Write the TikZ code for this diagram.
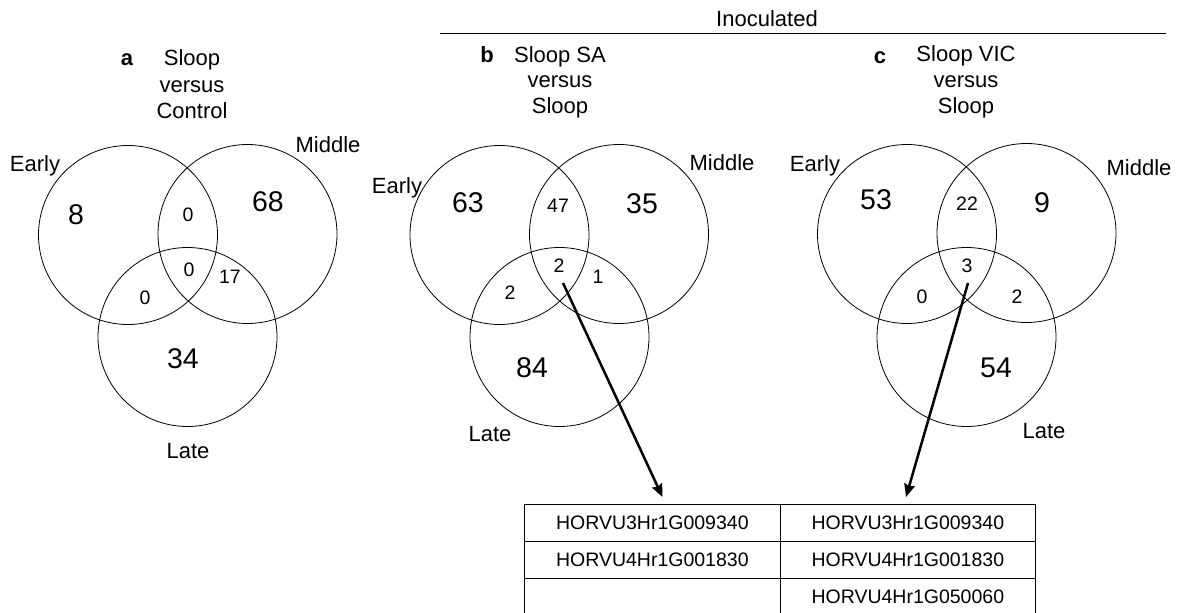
\documentclass[tikz,border=0pt]{standalone}
\usepackage{fontspec}
\setmainfont{Liberation Sans}
\usetikzlibrary{arrows.meta}

\tikzset{
  set/.style={circle, draw, line width=0.8pt, minimum size=179pt, inner sep=0pt},
  lbl/.style={anchor=base, inner sep=0pt, font=\fontsize{22}{26}\selectfont},
  big/.style={anchor=base, inner sep=0pt, font=\fontsize{28.5}{32}\selectfont},
  small/.style={anchor=base, inner sep=0pt, font=\fontsize{19.5}{23}\selectfont},
  cell/.style={draw, line width=1pt, minimum height=36.7pt,
               inner sep=0pt, font=\fontsize{19.5}{23}\selectfont},
  pointer/.style={line width=2.5pt, -{Stealth[length=13pt, width=11pt, inset=2pt]}},
}

\begin{document}
\begin{tikzpicture}[x=1pt, y=-1pt]
\clip (0,0) rectangle (1187,613);
\fill[white] (0,0) rectangle (1187,613);

% header spanning the two inoculated panels
\node[lbl] (inoc) at (767,27) {Inoculated};
\coordinate (ruleL) at (440,33);
\coordinate (ruleR) at (1166,33);
\draw[line width=0.8pt] (ruleL) -- (ruleR);

% ---------- panel a ----------
\node[lbl, font=\fontsize{22}{26}\selectfont\bfseries] (aTag) at (127,65) {a};
\node[lbl] (aT1) at (192,65) {Sloop};
\node[lbl] (aT2) at (192,92) {versus};
\node[lbl] (aT3) at (192,118) {Control};
\node[set] (aE) at (128,235) {};
\node[set] (aM) at (247.5,234) {};
\node[set] (aL) at (187.5,337) {};
\node[lbl] (aEl) at (35,171) {Early};
\node[lbl] (aMl) at (328,152) {Middle};
\node[lbl] (aLl) at (188,458) {Late};
\node[big] (aE1) at (76,224) {8};
\node[big] (aM1) at (268,211) {68};
\node[big] (aL1) at (183,368) {34};
\node[small] (aEM) at (188,221) {0};
\node[small] (aEML) at (189,276) {0};
\node[small] (aML) at (230,283) {17};
\node[small] (aEL) at (145,304) {0};

% ---------- panel b ----------
\node[lbl, font=\fontsize{22}{26}\selectfont\bfseries] (bTag) at (487,62) {b};
\node[lbl] (bT1) at (560,62) {Sloop SA};
\node[lbl] (bT2) at (560,87) {versus};
\node[lbl] (bT3) at (560,113) {Sloop};
\node[set] (bE) at (499.5,235) {};
\node[set] (bM) at (619,234) {};
\node[set] (bL) at (559.5,337) {};
\node[lbl] (bEl) at (397,193) {Early};
\node[lbl] (bMl) at (722,170) {Middle};
\node[lbl] (bLl) at (490,441) {Late};
\node[big] (bE1) at (468,212) {63};
\node[big] (bM1) at (642,213) {35};
\node[big] (bL1) at (532,377) {84};
\node[small] (bEM) at (558,212) {47};
\node[small] (bEML) at (559,272) {2};
\node[small] (bML) at (598,283) {1};
\node[small] (bEL) at (510,299) {2};

% ---------- panel c ----------
\node[lbl, font=\fontsize{22}{26}\selectfont\bfseries] (cTag) at (880,63) {c};
\node[lbl] (cT1) at (966,61) {Sloop VIC};
\node[lbl] (cT2) at (966,87) {versus};
\node[lbl] (cT3) at (966,113) {Sloop};
\node[set] (cE) at (907,234) {};
\node[set] (cM) at (1026.5,233) {};
\node[set] (cL) at (966.5,337) {};
\node[lbl] (cEl) at (815,171) {Early};
\node[lbl] (cMl) at (1139,175) {Middle};
\node[lbl] (cLl) at (1044,438) {Late};
\node[big] (cE1) at (876,209) {53};
\node[big] (cM1) at (1042,212) {9};
\node[big] (cL1) at (996,377) {54};
\node[small] (cEM) at (967,210) {22};
\node[small] (cEML) at (967,272) {3};
\node[small] (cML) at (1017,303) {2};
\node[small] (cEL) at (922,303) {0};

% ---------- table of shared genes ----------
\node[cell, minimum width=256.7pt] (t11) at (652.35,523) {HORVU3Hr1G009340};
\node[cell, minimum width=254.3pt] (t12) at (907.85,523) {HORVU3Hr1G009340};
\node[cell, minimum width=256.7pt] (t21) at (652.35,559.7) {HORVU4Hr1G001830};
\node[cell, minimum width=254.3pt] (t22) at (907.85,559.7) {HORVU4Hr1G001830};
\node[cell, minimum width=256.7pt] (t31) at (652.35,596.4) {};
\node[cell, minimum width=254.3pt] (t32) at (907.85,596.4) {HORVU4Hr1G050060};

% pointers from the triple overlaps to the table
\coordinate (bFrom) at (563,283);
\coordinate (bTo) at (662.5,497);
\coordinate (cFrom) at (968,283);
\coordinate (cTo) at (906,497);
\draw[pointer] (bFrom) -- (bTo);
\draw[pointer] (cFrom) -- (cTo);
\end{tikzpicture}
\end{document}
